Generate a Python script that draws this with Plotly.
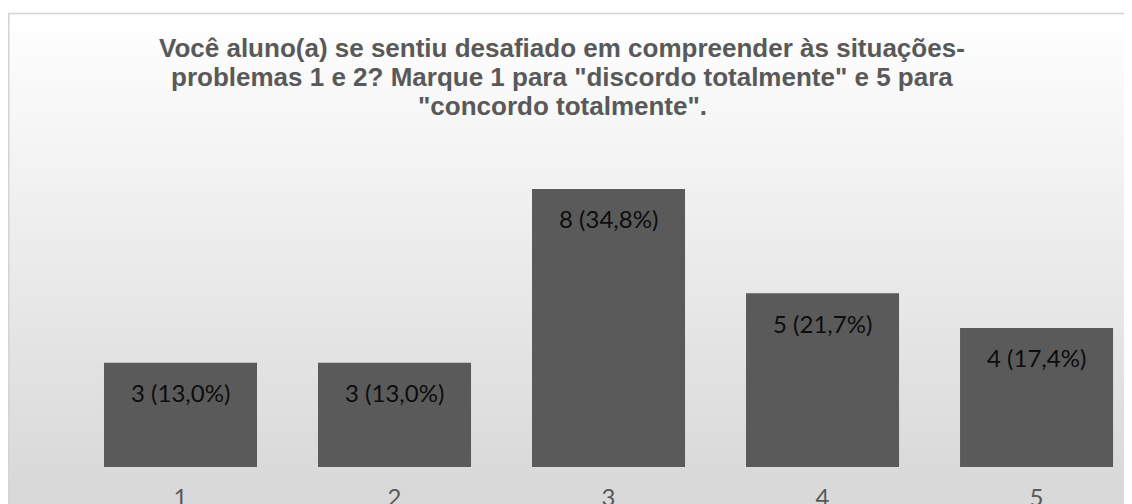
import plotly.graph_objects as go

categories = ["1", "2", "3", "4", "5"]
counts = [3, 3, 8, 5, 4]
total = sum(counts)
labels = [f"{c} ({c / total * 100:.1f}%)".replace(".", ",") for c in counts]

title_lines = [
    "Você aluno(a) se sentiu desafiado em compreender às situações-",
    "problemas 1 e 2? Marque 1 para \"discordo totalmente\" e 5 para",
    "\"concordo totalmente\".",
]

# the page body adds an 8px margin, so the figure is sized/positioned to compensate
W, H = 1124, 496
ML, MR, MT, MB = 0, 0, 6, 36.5
plot_w = W - ML - MR
plot_h = H - MT - MB

def px_x(p):
    return (p - ML) / plot_w

def px_y(p):
    return (H - MB - p) / plot_h

fig = go.Figure()
fig.add_trace(go.Bar(
    x=categories, y=counts,
    marker=dict(color="#5a5a5a", line=dict(width=0)),
    width=0.715,
    hoverinfo="skip",
))

annotations = []
for i, (v, t) in enumerate(zip(counts, labels)):
    annotations.append(dict(
        x=i, y=v, xref="x", yref="y", text=t, showarrow=False,
        yanchor="middle", yshift=-30,
        font=dict(family="Lato", size=24, color="#0d0d0d"),
    ))

# chart title, three lines with Excel-like spacing
for k, line in enumerate(title_lines):
    annotations.append(dict(
        x=px_x(554), y=px_y(39.7 + 29.3 * k), xref="paper", yref="paper",
        text=f"<b>{line}</b>", showarrow=False,
        xanchor="center", yanchor="middle",
        font=dict(family="Liberation Sans", size=26, color="#595959"),
    ))

# background gradient (white -> light gray)
shapes = []
step = 7
y = 6
while y < H:
    yc = y + step / 2
    v = 255 - 38 * (yc - 6) / 466
    v = int(round(max(217, min(255, v))))
    col = f"rgb({v},{v},{v})"
    shapes.append(dict(
        type="rect", xref="paper", yref="paper", layer="below",
        x0=px_x(0), x1=px_x(W + 2), y0=px_y(y + step + 0.5), y1=px_y(y),
        fillcolor=col, line=dict(width=0),
    ))
    y += step

# chart-area border
shapes.append(dict(type="line", xref="paper", yref="paper", layer="above",
                   x0=px_x(0.75), x1=px_x(0.75), y0=px_y(5.5), y1=px_y(H + 2),
                   line=dict(color="#d4d4d4", width=1.5)))
shapes.append(dict(type="line", xref="paper", yref="paper", layer="above",
                   x0=px_x(0), x1=px_x(W + 2), y0=px_y(5.5), y1=px_y(5.5),
                   line=dict(color="#d4d4d4", width=1.5)))

fig.update_layout(
    template="none",
    width=W, height=H,
    margin=dict(l=ML, r=MR, t=MT, b=MB, pad=0, autoexpand=False),
    paper_bgcolor="white",
    plot_bgcolor="rgba(0,0,0,0)",
    showlegend=False,
    xaxis=dict(
        type="category",
        range=[-0.806, 4.446],
        automargin=False,
        showgrid=False, zeroline=False, showline=False,
        ticks="", ticklabelstandoff=14,
        tickfont=dict(family="Lato", size=24, color="#595959"),
        fixedrange=True,
    ),
    yaxis=dict(
        range=[0, plot_h / 34.8],
        automargin=False,
        showgrid=False, zeroline=False, showline=False,
        showticklabels=False, ticks="",
        fixedrange=True,
    ),
    annotations=annotations,
    shapes=shapes,
)

fig.write_html("out.html")
